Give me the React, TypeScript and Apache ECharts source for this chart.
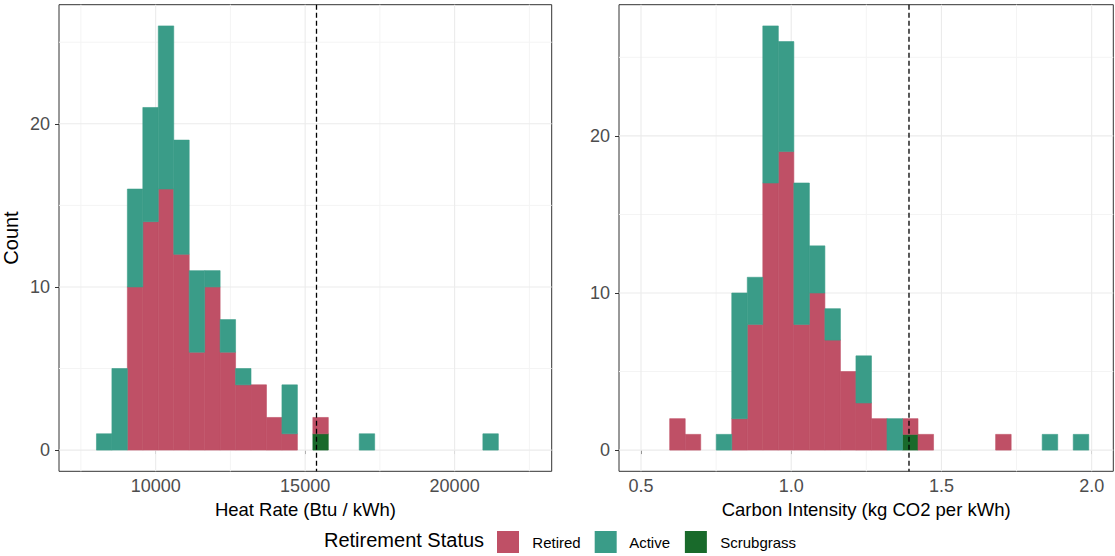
import React, { useEffect, useRef } from "react";
import * as echarts from "echarts";

// ---------- data ----------
const heatBinStart = 8020;
const heatBinWidth = 517;
const heatRetired = [0, 0, 10, 14, 16, 12, 6, 10, 6, 4, 4, 2, 1, 0, 1, 0, 0, 0, 0, 0, 0, 0, 0, 0, 0, 0];
const heatActive = [1, 5, 6, 7, 10, 7, 5, 1, 2, 1, 0, 0, 3, 0, 0, 0, 0, 1, 0, 0, 0, 0, 0, 0, 0, 1];
const heatScrub = [0, 0, 0, 0, 0, 0, 0, 0, 0, 0, 0, 0, 0, 0, 1, 0, 0, 0, 0, 0, 0, 0, 0, 0, 0, 0];

const carbonBinStart = 0.5955;
const carbonBinWidth = 0.05166;
const carbonRetired = [2, 1, 0, 0, 2, 8, 17, 19, 8, 10, 7, 5, 3, 2, 0, 1, 1, 0, 0, 0, 0, 1, 0, 0, 0, 0, 0];
const carbonActive = [0, 0, 0, 1, 8, 3, 10, 7, 9, 3, 2, 0, 3, 0, 2, 0, 0, 0, 0, 0, 0, 0, 0, 0, 1, 0, 1];
const carbonScrub = [0, 0, 0, 0, 0, 0, 0, 0, 0, 0, 0, 0, 0, 0, 0, 1, 0, 0, 0, 0, 0, 0, 0, 0, 0, 0, 0];

const scrubHeatRate = 15380;
const scrubCarbon = 1.392;

const heatTicks = [10000, 15000, 20000];
const heatMinor = [7500, 12500, 17500, 22500];
const carbonTicks = [0.5, 1.0, 1.5, 2.0];
const carbonMinor = [0.75, 1.25, 1.75];
const countTicks = [0, 10, 20];
const countMinor = [5, 15, 25];

const statusNames = ["Retired", "Active", "Scrubgrass"];
const COLORS: Record<string, string> = {
  Retired: "#BF5066",
  Active: "#3A9C88",
  Scrubgrass: "#196A2B",
};

const FONT = "'Liberation Sans', Arial, Helvetica, sans-serif";

// stack order bottom -> top: Scrubgrass, Retired, Active
function buildRects(start: number, width: number, layers: number[][]) {
  const out: number[][][] = layers.map(() => []);
  const n = layers[0].length;
  for (let i = 0; i < n; i++) {
    let base = 0;
    const x0 = start + i * width;
    const x1 = x0 + width;
    layers.forEach((arr, li) => {
      const c = arr[i];
      if (c > 0) {
        out[li].push([x0, x1, base, base + c]);
        base += c;
      }
    });
  }
  return out;
}

function rectSeries(name: string, data: number[][], gi: number) {
  const color = COLORS[name];
  return {
    type: "custom",
    name,
    xAxisIndex: gi,
    yAxisIndex: gi,
    z: 3,
    silent: true,
    itemStyle: { color },
    encode: { x: [0, 1], y: [2, 3] },
    data,
    renderItem: (params: any, api: any) => {
      const p0 = api.coord([api.value(0), api.value(2)]);
      const p1 = api.coord([api.value(1), api.value(3)]);
      return {
        type: "rect",
        shape: { x: p0[0], y: p1[1], width: p1[0] - p0[0], height: p0[1] - p1[1] },
        style: { fill: color, stroke: color, lineWidth: 0.6 },
      };
    },
  };
}

function vLines(values: number[], gi: number, stroke: string, lw: number, z: number, dash?: number[]) {
  return {
    type: "custom",
    xAxisIndex: gi,
    yAxisIndex: gi,
    z,
    silent: true,
    data: values.map((v) => [v, 0]),
    renderItem: (params: any, api: any) => {
      const cs = params.coordSys;
      const x = api.coord([api.value(0), 0])[0];
      const style: any = { stroke, lineWidth: lw };
      if (dash) style.lineDash = dash;
      return {
        type: "line",
        shape: { x1: x, y1: cs.y, x2: x, y2: cs.y + cs.height },
        style,
      };
    },
  };
}

function hLines(values: number[], xRef: number, gi: number, stroke: string, lw: number, z: number) {
  return {
    type: "custom",
    xAxisIndex: gi,
    yAxisIndex: gi,
    z,
    silent: true,
    data: values.map((v) => [xRef, v]),
    renderItem: (params: any, api: any) => {
      const cs = params.coordSys;
      const y = api.coord([api.value(0), api.value(1)])[1];
      return {
        type: "line",
        shape: { x1: cs.x, y1: y, x2: cs.x + cs.width, y2: y },
        style: { stroke, lineWidth: lw },
      };
    },
  };
}

export default function App() {
  const ref = useRef<HTMLDivElement>(null);

  useEffect(() => {
    if (!ref.current) return;
    const chart = echarts.init(ref.current, undefined, { renderer: "svg" });

    const [hS, hR, hA] = buildRects(heatBinStart, heatBinWidth, [heatScrub, heatRetired, heatActive]);
    const [cS, cR, cA] = buildRects(carbonBinStart, carbonBinWidth, [carbonScrub, carbonRetired, carbonActive]);

    const heatMin = 6767, heatMax = 23247;
    const carbMin = 0.4268, carbMax = 2.072;

    const tickLabel = { color: "#4D4D4D", fontSize: 18, fontFamily: FONT };
    const tick = { show: true, length: 4, lineStyle: { color: "#333333", width: 1 } };

    const option: any = {
      animation: false,
      backgroundColor: "#ffffff",
      textStyle: { fontFamily: FONT },
      title: {
        text: "Retirement Status",
        left: 324,
        top: 530,
        padding: 0,
        textStyle: { fontSize: 20, fontWeight: "normal", color: "#000", fontFamily: FONT },
      },
      legend: {
        data: statusNames,
        left: 497,
        top: 531,
        padding: 0,
        itemWidth: 22,
        itemHeight: 22,
        itemGap: 14,
        icon: "rect",
        selectedMode: false,
        formatter: (name: string) => "  " + name,
        textStyle: { fontSize: 15, color: "#000", fontFamily: FONT },
      },
      grid: [
        { left: 57.3, top: 4.7, width: 494.4, height: 466.6, show: true, borderColor: "#333333", borderWidth: 1, backgroundColor: "#fff", containLabel: false },
        { left: 619, top: 4.7, width: 494.3, height: 466.6, show: true, borderColor: "#333333", borderWidth: 1, backgroundColor: "#fff", containLabel: false },
      ],
      xAxis: [
        {
          type: "value",
          gridIndex: 0,
          min: heatMin,
          max: heatMax,
          splitLine: { show: false },
          axisLine: { show: false },
          axisTick: { ...tick, customValues: heatTicks },
          axisLabel: { ...tickLabel, customValues: heatTicks, margin: 6, formatter: (v: number) => String(v) },
          name: "Heat Rate (Btu / kWh)",
          nameLocation: "middle",
          nameGap: 28,
          nameTextStyle: { fontSize: 18.5, color: "#000", fontFamily: FONT },
        },
        {
          type: "value",
          gridIndex: 1,
          min: carbMin,
          max: carbMax,
          splitLine: { show: false },
          axisLine: { show: false },
          axisTick: { ...tick, customValues: carbonTicks },
          axisLabel: { ...tickLabel, customValues: carbonTicks, margin: 6, formatter: (v: number) => v.toFixed(1) },
          name: "Carbon Intensity (kg CO2 per kWh)",
          nameLocation: "middle",
          nameGap: 28,
          nameTextStyle: { fontSize: 18.5, color: "#000", fontFamily: FONT },
        },
      ],
      yAxis: [
        {
          type: "value",
          gridIndex: 0,
          min: -1.3,
          max: 27.3,
          splitLine: { show: false },
          axisLine: { show: false },
          axisTick: { ...tick, customValues: countTicks },
          axisLabel: { ...tickLabel, customValues: countTicks, margin: 9 },
          name: "Count",
          nameLocation: "middle",
          nameGap: 38,
          nameTextStyle: { fontSize: 20, color: "#000", fontFamily: FONT },
        },
        {
          type: "value",
          gridIndex: 1,
          min: -1.35,
          max: 28.35,
          splitLine: { show: false },
          axisLine: { show: false },
          axisTick: { ...tick, customValues: countTicks },
          axisLabel: { ...tickLabel, customValues: countTicks, margin: 9 },
        },
      ],
      series: [
        vLines(heatMinor, 0, "#F4F4F4", 1, 1),
        hLines(countMinor, heatMin, 0, "#F4F4F4", 1, 1),
        vLines(heatTicks, 0, "#EBEBEB", 1.1, 1),
        hLines(countTicks, heatMin, 0, "#EBEBEB", 1.1, 1),
        vLines(carbonMinor, 1, "#F4F4F4", 1, 1),
        hLines(countMinor, carbMin, 1, "#F4F4F4", 1, 1),
        vLines(carbonTicks, 1, "#EBEBEB", 1.1, 1),
        hLines(countTicks, carbMin, 1, "#EBEBEB", 1.1, 1),
        rectSeries("Scrubgrass", hS, 0),
        rectSeries("Retired", hR, 0),
        rectSeries("Active", hA, 0),
        rectSeries("Scrubgrass", cS, 1),
        rectSeries("Retired", cR, 1),
        rectSeries("Active", cA, 1),
        vLines([scrubHeatRate], 0, "#000000", 1.3, 5, [5, 3]),
        vLines([scrubCarbon], 1, "#000000", 1.3, 5, [5, 3]),
      ],
    };

    chart.setOption(option);
    return () => chart.dispose();
  }, []);

  return (
    <div
      ref={ref}
      style={{ position: "fixed", left: 0, top: 0, width: 1115, height: 556, background: "#fff" }}
    />
  );
}
